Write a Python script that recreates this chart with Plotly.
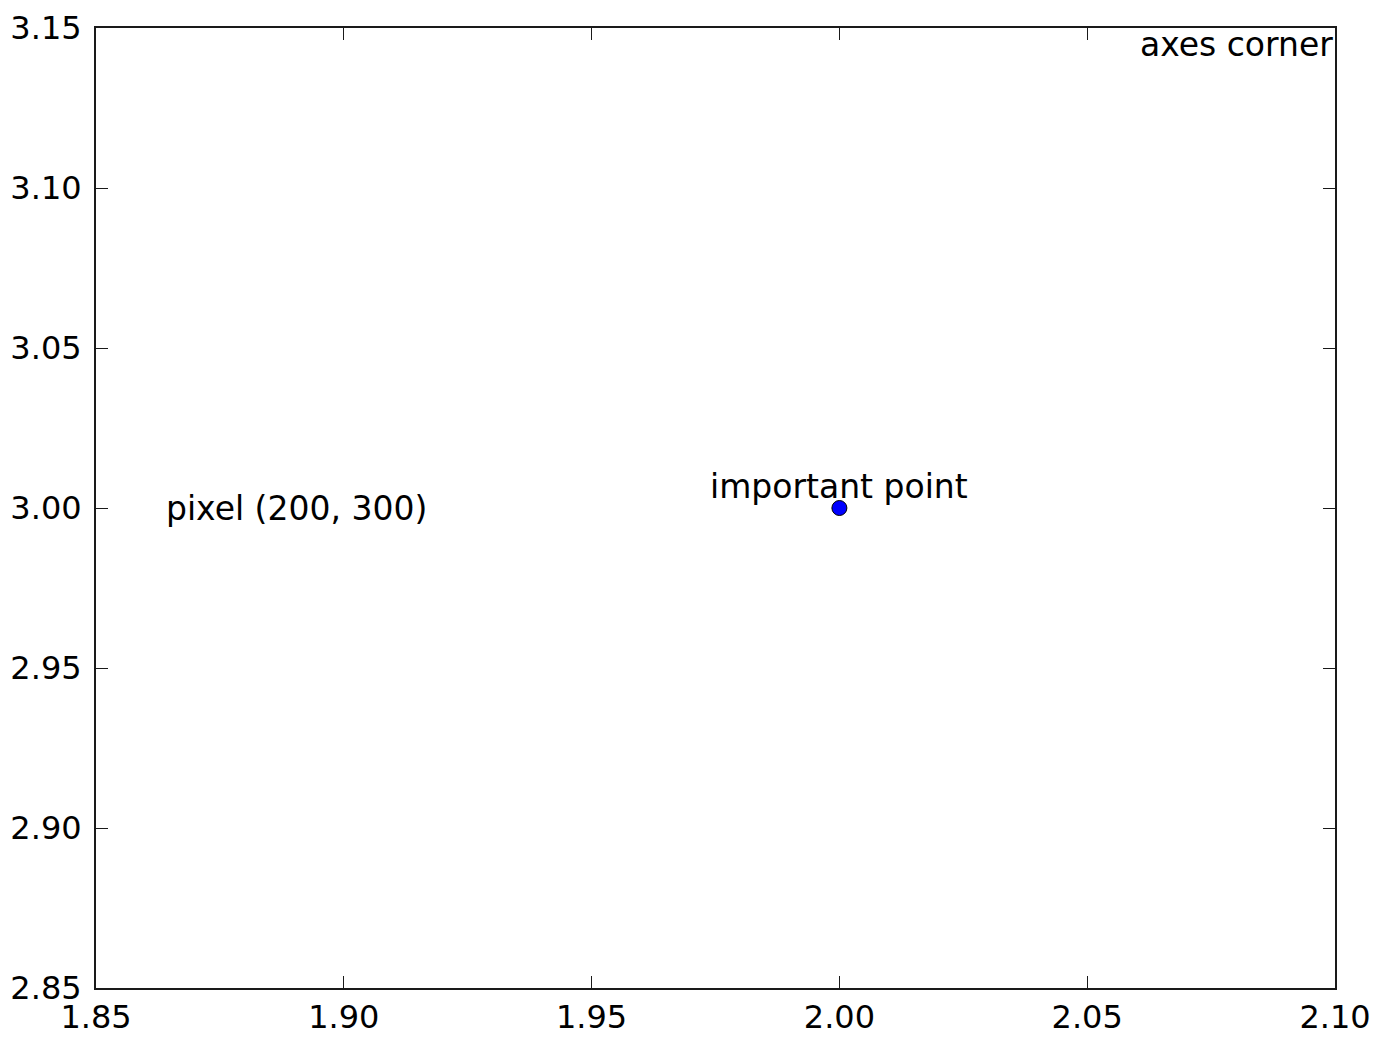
import plotly.graph_objects as go

# Data
point_x = [2.0]
point_y = [3.0]
x_ticks = [1.85, 1.90, 1.95, 2.00, 2.05, 2.10]
y_ticks = [2.85, 2.90, 2.95, 3.00, 3.05, 3.10, 3.15]
x_tick_labels = ["1.85", "1.90", "1.95", "2.00", "2.05", "2.10"]
y_tick_labels = ["2.85", "2.90", "2.95", "3.00", "3.05", "3.10", "3.15"]
annotation_point_text = "important point"
pixel_text = "pixel (200, 300)"
corner_text = "axes corner"

FONT = "DejaVu Sans"
FS = 32
AFS = 33

fig = go.Figure()
fig.add_trace(go.Scatter(
    x=point_x, y=point_y, mode="markers",
    marker=dict(color="#0000ff", size=15, line=dict(color="black", width=1)),
    showlegend=False, hoverinfo="skip",
))

fig.add_annotation(x=point_x[0], y=point_y[0], xref="x", yref="y",
                   text=annotation_point_text, showarrow=False,
                   xanchor="center", yanchor="bottom", yshift=0,
                   font=dict(family=FONT, size=AFS, color="black"))
fig.add_annotation(x=(163 - 95) / 1240, y=0.5, xref="paper", yref="paper",
                   text=pixel_text, showarrow=False,
                   xanchor="left", yanchor="middle",
                   font=dict(family=FONT, size=AFS, color="black"))
fig.add_annotation(x=1.0, y=1.0, xref="paper", yref="paper",
                   text=corner_text, showarrow=False,
                   xanchor="right", yanchor="top", yshift=5,
                   font=dict(family=FONT, size=AFS, color="black"))

axis_common = dict(
    showgrid=False, zeroline=False, showline=True, linecolor="#1a1a1a",
    linewidth=2, mirror="ticks", ticks="inside", ticklen=12, tickwidth=1,
    tickcolor="#1a1a1a", tickfont=dict(family=FONT, size=FS, color="black"),
)

fig.update_xaxes(range=[1.85, 2.10], tickvals=x_ticks, ticktext=x_tick_labels,
                 ticklabelstandoff=0, **axis_common)
fig.update_yaxes(range=[2.85, 3.15], tickvals=y_ticks, ticktext=y_tick_labels,
                 ticklabelstandoff=6, **axis_common)

fig.update_layout(
    width=1370, height=1031,
    margin=dict(l=88, r=43, t=20, b=51, autoexpand=False),
    plot_bgcolor="white", paper_bgcolor="white",
    font=dict(family=FONT, size=FS, color="black"),
)

fig.write_html("out.html")
